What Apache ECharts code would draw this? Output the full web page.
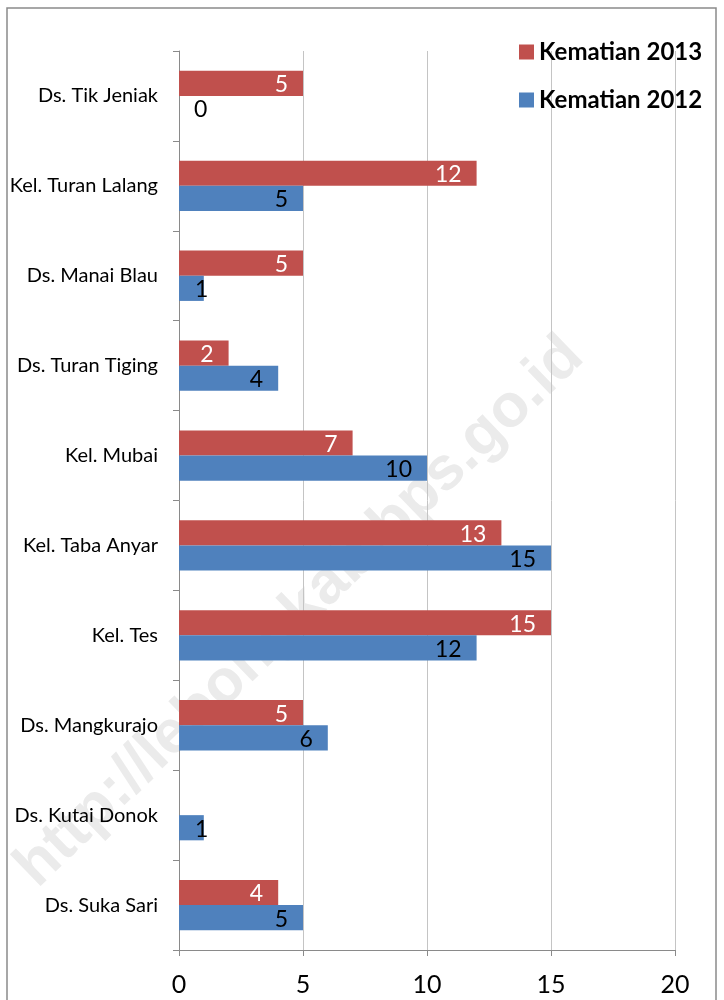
<!DOCTYPE html>
<html>
<head>
<meta charset="utf-8">
<script src="https://cdn.jsdelivr.net/npm/echarts@6/dist/echarts.min.js"></script>
<style>
  html, body { margin: 0; padding: 0; background: #fff; }
  #chart { width: 724px; height: 1000px; }
</style>
</head>
<body>
<div id="chart"></div>
<script>
// data, top to bottom
const desa = [
  'Ds. Tik Jeniak', 'Kel. Turan Lalang', 'Ds. Manai Blau', 'Ds. Turan Tiging',
  'Kel. Mubai', 'Kel. Taba Anyar', 'Kel. Tes', 'Ds. Mangkurajo',
  'Ds. Kutai Donok', 'Ds. Suka Sari'
];
const kematian2013 = [5, 12, 5, 2, 7, 13, 15, 5, null, 4];
const kematian2012 = [0, 5, 1, 4, 10, 15, 12, 6, 1, 5];
const xTicks = [0, 5, 10, 15, 20];
const watermark = 'http://lebongkab.bps.go.id';

const FONT = "Lato, 'Liberation Sans', sans-serif";
const WM_FONT = "'Liberation Sans', Arial, sans-serif";

// batang pendek (0 atau 1): label ditaruh dari sisi kiri
let toItems = (arr) => arr.map(v => {
  if (v === null) return '-';
  if (v === 0) return { value: 0, label: { position: 'right', distance: 15 } };
  if (v === 1) return { value: 1, label: { position: 'insideLeft', distance: 16 } };
  return v;
});

let chart = echarts.init(document.getElementById('chart'), null, { renderer: 'canvas' });

let option = {
  animation: false,
  backgroundColor: '#fff',
  textStyle: { fontFamily: FONT },
  graphic: [
    {
      type: 'rect', z: -10, silent: true,
      shape: { x: 7, y: 8, width: 709, height: 1010 },
      style: { fill: 'none', stroke: '#8a8a8a', lineWidth: 1.5 }
    },
    {
      type: 'text', z: -5, silent: true,
      x: 300, y: 612, rotation: 44 * Math.PI / 180,
      style: {
        text: watermark, fill: '#ebebeb',
        font: "bold 61px " + WM_FONT,
        align: 'center', verticalAlign: 'middle'
      }
    }
  ],
  legend: {
    data: ['Kematian 2013', 'Kematian 2012'],
    orient: 'vertical',
    left: 514, top: 35,
    itemWidth: 15, itemHeight: 15,
    itemGap: 24,
    icon: 'rect',
    textStyle: { fontSize: 24, fontWeight: 'bold', color: '#000', fontFamily: FONT }
  },
  grid: { left: 179, right: 49, top: 51, bottom: 50, containLabel: false },
  xAxis: {
    type: 'value', min: 0, max: 20, interval: 5,
    axisLine: { show: true, lineStyle: { color: '#8a8a8a', width: 1 } },
    axisTick: { show: true, length: 6, lineStyle: { color: '#8a8a8a' } },
    splitLine: { show: true, lineStyle: { color: '#c4c4c4', width: 1 } },
    axisLabel: {
      fontSize: 25, color: '#000', margin: 22,
      formatter: v => xTicks.includes(v) ? String(v) : ''
    }
  },
  yAxis: {
    type: 'category', data: desa, inverse: true,
    axisLine: { show: true, lineStyle: { color: '#8a8a8a', width: 1 } },
    axisTick: { show: true, length: 6, lineStyle: { color: '#8a8a8a' } },
    axisLabel: { fontSize: 20, color: '#000', margin: 21 }
  },
  series: [
    {
      name: 'Kematian 2013', type: 'bar',
      data: toItems(kematian2013),
      itemStyle: { color: '#c0504d' },
      barGap: '0%', barCategoryGap: '44%',
      label: {
        show: true, position: 'insideRight', distance: 15, offset: [0, 1.5],
        color: '#fff', fontSize: 23, fontFamily: FONT
      }
    },
    {
      name: 'Kematian 2012', type: 'bar',
      data: toItems(kematian2012),
      itemStyle: { color: '#4f81bd' },
      barGap: '0%', barCategoryGap: '44%',
      label: {
        show: true, position: 'insideRight', distance: 15, offset: [0, 1.5],
        color: '#000', fontSize: 23, fontFamily: FONT
      }
    }
  ]
};

chart.setOption(option);
</script>
</body>
</html>
